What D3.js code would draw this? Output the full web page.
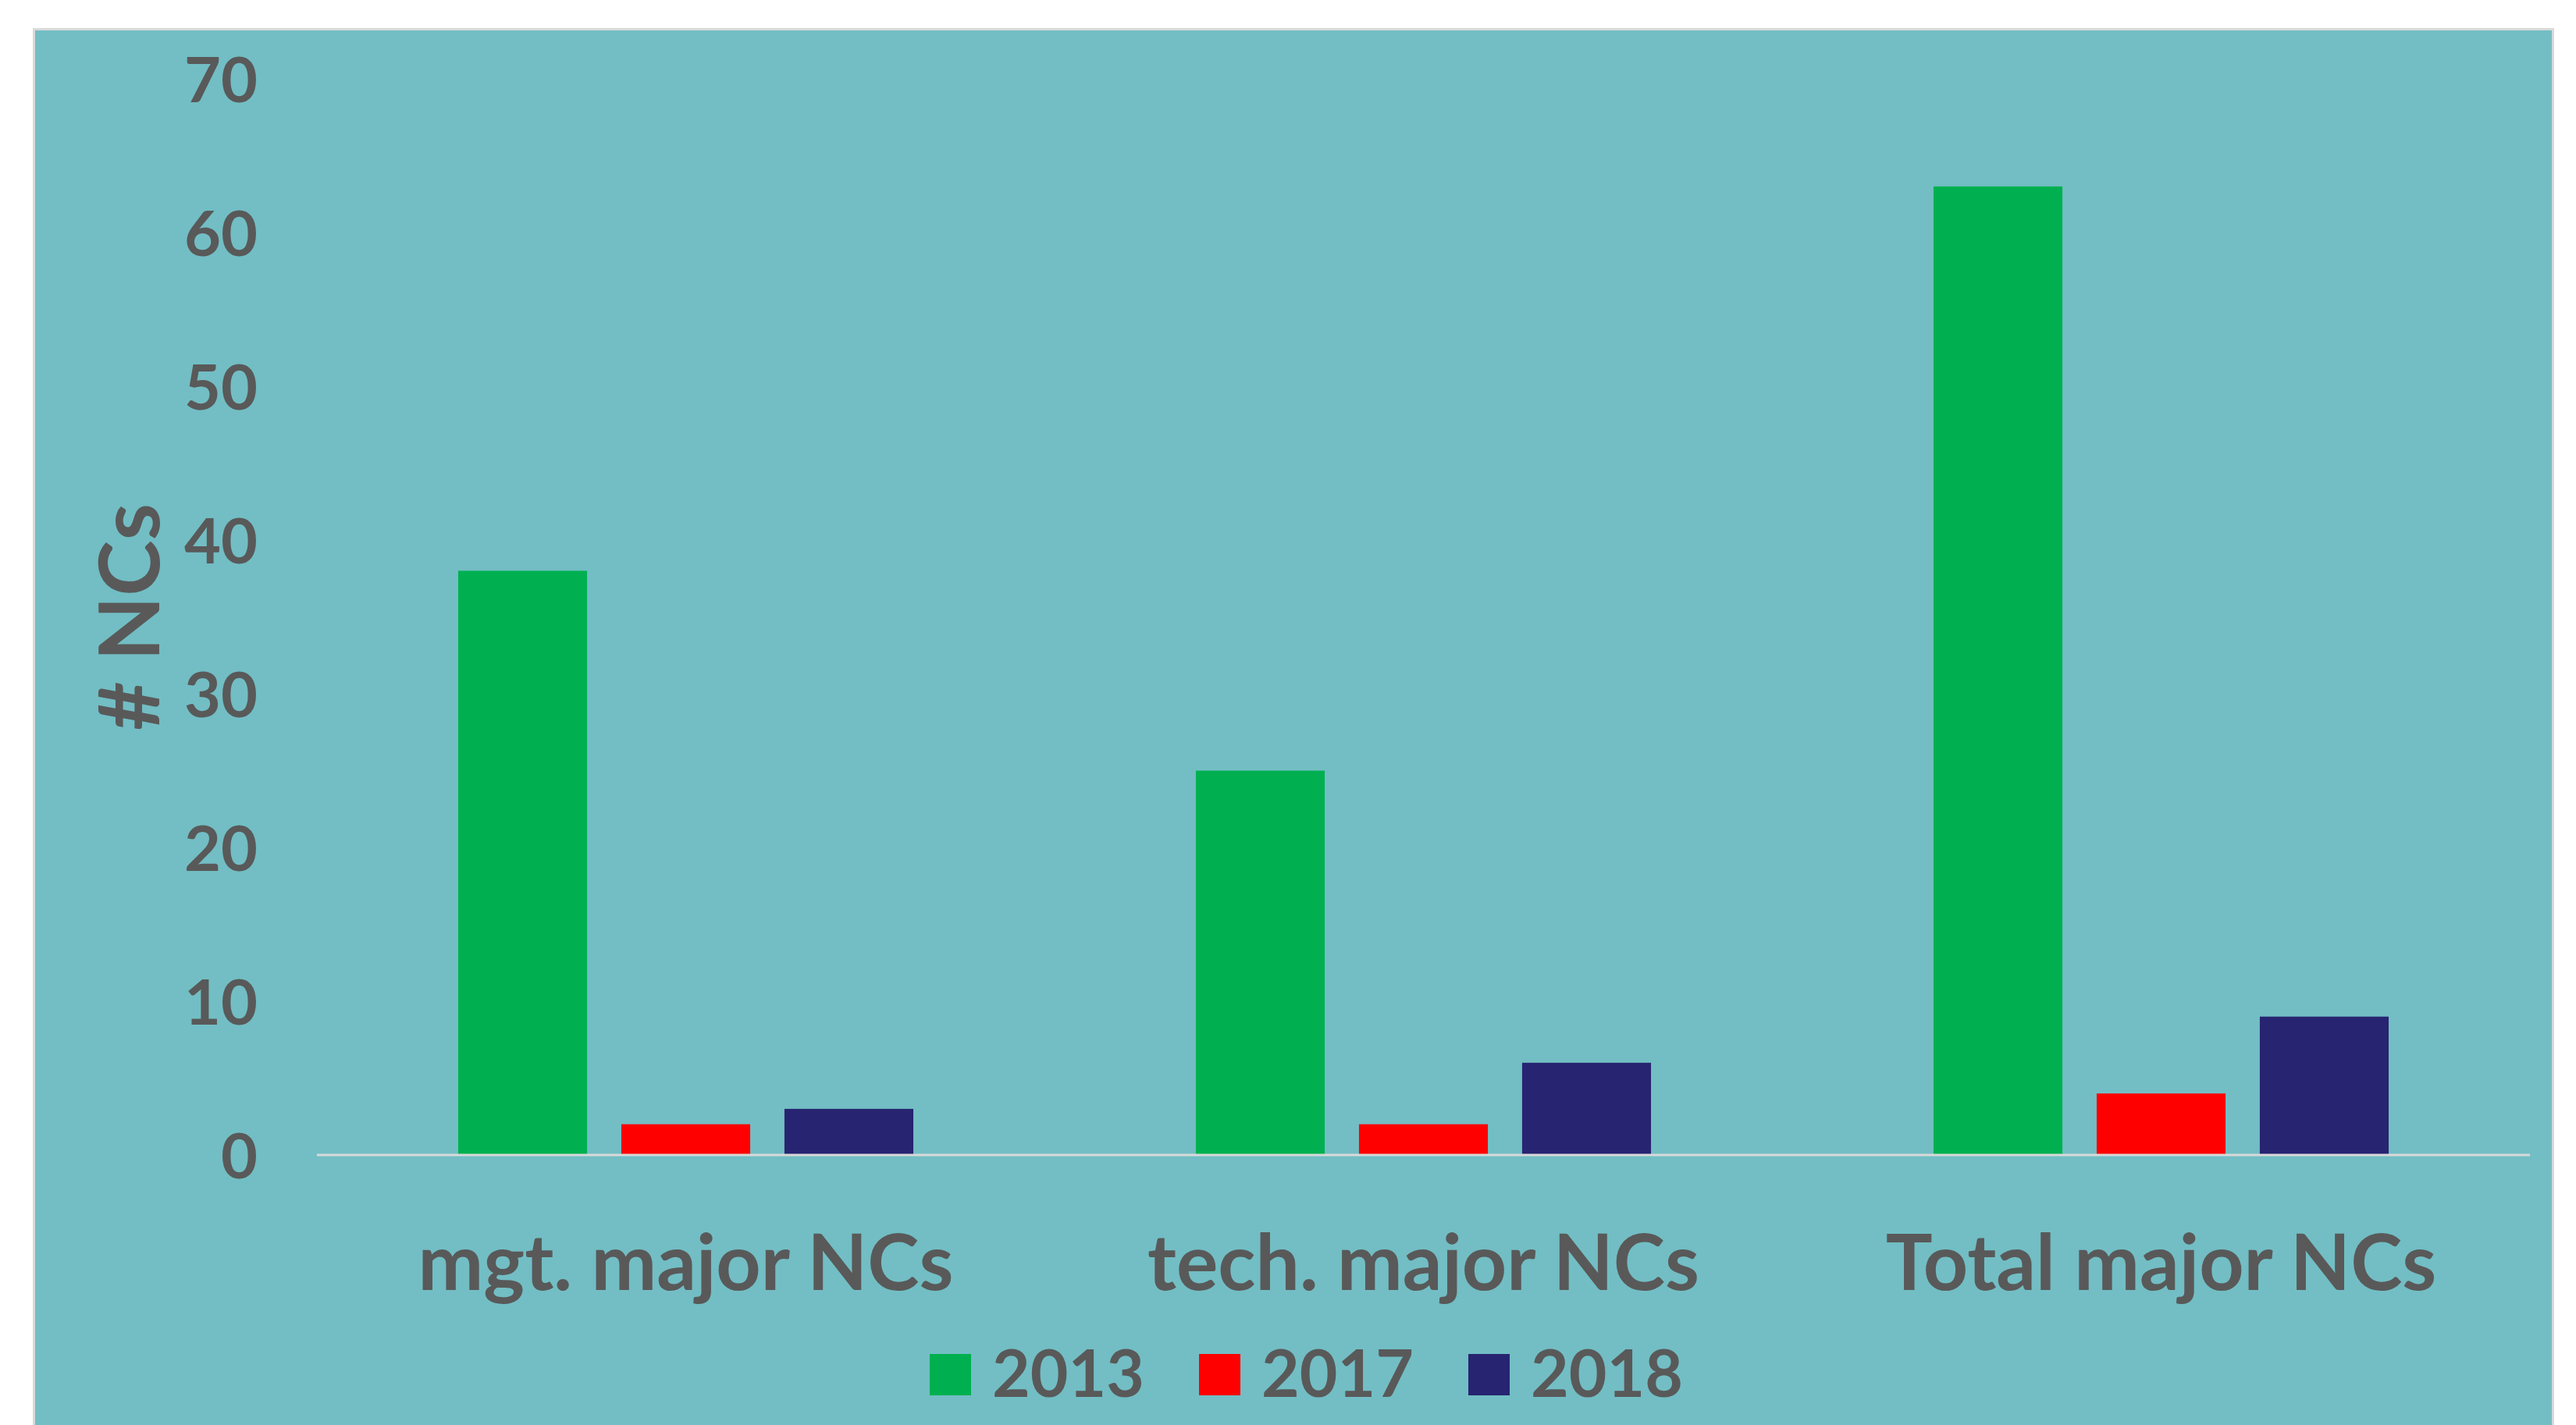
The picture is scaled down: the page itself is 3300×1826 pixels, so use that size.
<!DOCTYPE html>
<html>
<head>
<meta charset="utf-8">
<script src="https://cdn.jsdelivr.net/npm/d3@7"></script>
<style>
  body { margin: 0; background: #fff; }
  svg text { font-family: Lato, "Open Sans", sans-serif; font-weight: bold; fill: #595959; }
</style>
</head>
<body>
<div id="chart"></div>
<script>
const categories = ['mgt. major NCs', 'tech. major NCs', 'Total major NCs'];
const years = ['2013', '2017', '2018'];
const values2013 = [38, 25, 63];
const values2017 = [2, 2, 4];
const values2018 = [3, 6, 9];
const yTicks = [0, 10, 20, 30, 40, 50, 60, 70];
const colors = ['#00b050', '#ff0000', '#272471'];

const width = 3300;
const height = 1826;

const series = [values2013, values2017, values2018];
const rows = categories.map((c, i) => ({
    category: c,
    values: years.map((y, j) => ({ year: y, value: series[j][i] }))
}));

const svg = d3.select('#chart')
    .append('svg')
    .attr('width', width)
    .attr('height', height);

// chart area background
svg.append('rect')
    .attr('x', 43.5)
    .attr('y', 37.5)
    .attr('width', 3227)
    .attr('height', 1850)
    .attr('fill', '#72bec4')
    .attr('stroke', '#d9d9d9')
    .attr('stroke-width', 3);

const x0 = d3.scaleBand()
    .domain(categories)
    .range([406, 3241])
    .paddingInner(0.383)
    .paddingOuter(0.1915);

const x1 = d3.scaleBand()
    .domain(years)
    .range([0, x0.bandwidth()])
    .paddingInner(0.21);

const y = d3.scaleLinear()
    .domain([0, 70])
    .range([1480, 101]);

const color = d3.scaleOrdinal().domain(years).range(colors);

// y axis labels (no line)
const yAxis = svg.append('g')
    .attr('transform', 'translate(330,0)')
    .call(d3.axisLeft(y).tickValues(yTicks).tickSize(0).tickPadding(0));
yAxis.select('.domain').remove();
yAxis.selectAll('text')
    .attr('font-size', 81)
    .attr('dy', '0.36em')
    .attr('fill', null);

// bars
svg.append('g')
    .selectAll('g')
    .data(rows)
    .join('g')
    .attr('transform', d => `translate(${x0(d.category)},0)`)
    .selectAll('rect')
    .data(d => d.values)
    .join('rect')
    .attr('x', d => x1(d.year))
    .attr('y', d => y(d.value))
    .attr('width', x1.bandwidth())
    .attr('height', d => y(0) - y(d.value))
    .attr('fill', d => color(d.year));

// baseline
svg.append('line')
    .attr('x1', 406)
    .attr('x2', 3241)
    .attr('y1', y(0))
    .attr('y2', y(0))
    .attr('stroke', '#d9d9d9')
    .attr('stroke-width', 3);

// category labels
const xAxis = svg.append('g')
    .attr('transform', `translate(0,${y(0)})`)
    .call(d3.axisBottom(x0).tickSize(0).tickPadding(0));
xAxis.select('.domain').remove();
xAxis.selectAll('text')
    .attr('font-size', 100)
    .attr('dy', null)
    .attr('y', 173)
    .attr('fill', null);

// y axis title
svg.append('text')
    .attr('transform', `translate(204,${(y(0) + y(70)) / 2}) rotate(-90)`)
    .attr('text-anchor', 'middle')
    .attr('font-size', 108)
    .text('# NCs');

// legend
const legend = svg.append('g')
    .selectAll('g')
    .data(years)
    .join('g')
    .attr('transform', (d, i) => `translate(${1191 + i * 345},1735)`);

legend.append('rect')
    .attr('width', 53)
    .attr('height', 53)
    .attr('fill', d => color(d));

legend.append('text')
    .attr('x', 80)
    .attr('y', 55)
    .attr('font-size', 84)
    .text(d => d);
</script>
</body>
</html>
